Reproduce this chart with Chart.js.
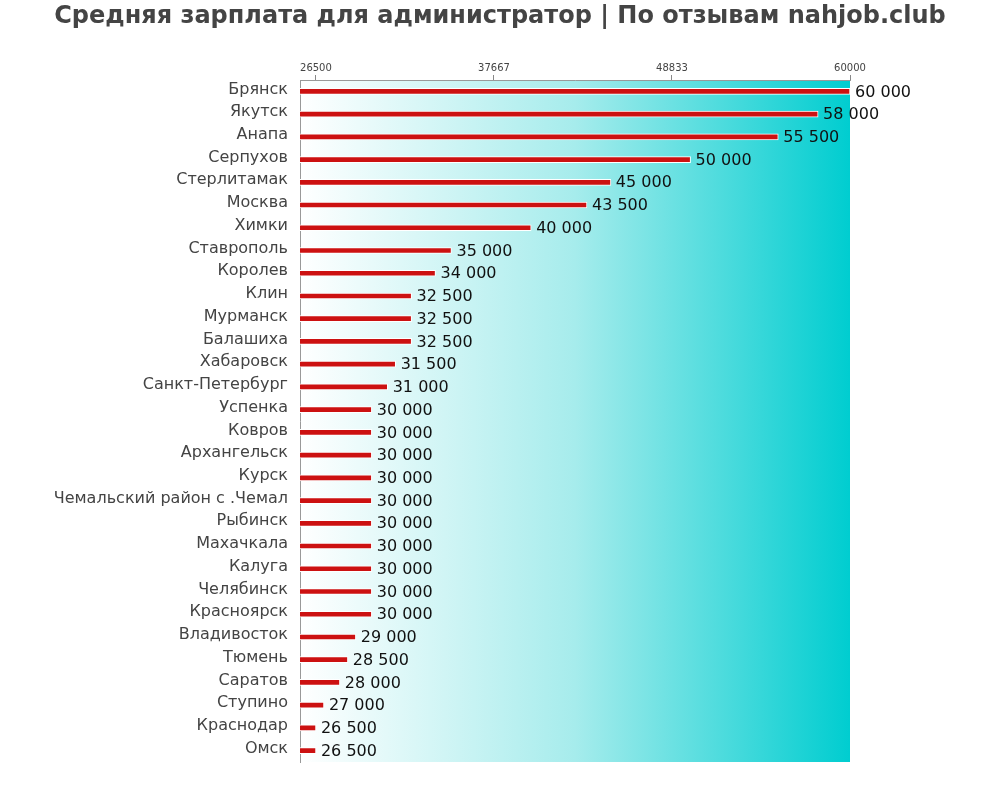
<!DOCTYPE html>
<html>
<head>
<meta charset="utf-8">
<script src="https://cdn.jsdelivr.net/npm/chart.js@4"></script>
<style>
  html, body { margin: 0; padding: 0; background: #fff; }
  #wrap { width: 1000px; height: 800px; }
</style>
</head>
<body>
<div id="wrap"><canvas id="chart"></canvas></div>
<script>
const title = 'Средняя зарплата для администратор | По отзывам nahjob.club';
const cities = ['Брянск', 'Якутск', 'Анапа', 'Серпухов', 'Стерлитамак', 'Москва', 'Химки',
  'Ставрополь', 'Королев', 'Клин', 'Мурманск', 'Балашиха', 'Хабаровск', 'Санкт-Петербург',
  'Успенка', 'Ковров', 'Архангельск', 'Курск', 'Чемальский район с .Чемал', 'Рыбинск',
  'Махачкала', 'Калуга', 'Челябинск', 'Красноярск', 'Владивосток', 'Тюмень', 'Саратов',
  'Ступино', 'Краснодар', 'Омск'];
const salaries = [60000, 58000, 55500, 50000, 45000, 43500, 40000, 35000, 34000, 32500,
  32500, 32500, 31500, 31000, 30000, 30000, 30000, 30000, 30000, 30000,
  30000, 30000, 30000, 30000, 29000, 28500, 28000, 27000, 26500, 26500];
const axisTicks = [26500, 37667, 48833, 60000];
const axisMin = 25500;
const axisMax = 60000;

// фон с градиентом внутри области графика
const bgPlugin = {
  id: 'bgGradient',
  beforeDraw(chart) {
    const { ctx, chartArea: a } = chart;
    const g = ctx.createLinearGradient(a.left, 0, a.right, 0);
    g.addColorStop(0, '#ffffff');
    g.addColorStop(0.5, '#a6ecec');
    g.addColorStop(1, '#00cdd0');
    ctx.save();
    ctx.fillStyle = g;
    ctx.fillRect(a.left, a.top, a.right - a.left, a.bottom - a.top);
    ctx.restore();
  }
};

// заголовок по центру всего холста
const titlePlugin = {
  id: 'centerTitle',
  afterDraw(chart) {
    const { ctx, width } = chart;
    ctx.save();
    ctx.font = 'bold 24px "DejaVu Sans"';
    ctx.fillStyle = '#444';
    ctx.textAlign = 'center';
    ctx.textBaseline = 'middle';
    ctx.fillText(title, width / 2, 17);
    ctx.restore();
  }
};

// подписи значений справа от полос
const valueLabels = {
  id: 'valueLabels',
  afterDatasetsDraw(chart) {
    const { ctx } = chart;
    const meta = chart.getDatasetMeta(0);
    ctx.save();
    ctx.font = '16px "DejaVu Sans"';
    ctx.fillStyle = '#111';
    ctx.textAlign = 'left';
    ctx.textBaseline = 'middle';
    meta.data.forEach((bar, i) => {
      const txt = String(salaries[i]).replace(/\B(?=(\d{3})+(?!\d))/g, ' ');
      ctx.fillText(txt, bar.x + 5, bar.y + 1);
    });
    ctx.restore();
  }
};

new Chart(document.getElementById('chart'), {
  type: 'bar',
  data: {
    labels: cities,
    datasets: [{
      data: salaries,
      backgroundColor: '#cc1111',
      borderColor: '#ffffff',
      borderWidth: 1,
      borderSkipped: false,
      barThickness: 6
    }]
  },
  options: {
    indexAxis: 'y',
    responsive: true,
    maintainAspectRatio: false,
    animation: false,
    layout: { padding: { left: 0, right: 150, top: 61, bottom: 38 } },
    plugins: {
      legend: { display: false },
      tooltip: { enabled: false },
      title: { display: false }
    },
    scales: {
      x: {
        position: 'top',
        min: axisMin,
        max: axisMax,
        afterBuildTicks(scale) {
          scale.ticks = axisTicks.map(v => ({ value: v }));
        },
        grid: { drawOnChartArea: false, drawTicks: true, tickLength: 5, color: '#888' },
        border: { display: true, color: '#999' },
        ticks: {
          color: '#444',
          font: { family: 'DejaVu Sans', size: 10 },
          padding: 1,
          maxRotation: 0,
          callback: v => String(v)
        }
      },
      y: {
        afterFit(scale) { scale.width = 300; },
        grid: { display: false, drawTicks: false },
        border: { display: true, color: '#999' },
        ticks: {
          color: '#444',
          font: { family: 'DejaVu Sans', size: 16 },
          padding: 12,
          labelOffset: -2,
          autoSkip: false
        }
      }
    }
  },
  plugins: [bgPlugin, valueLabels, titlePlugin]
});
</script>
</body>
</html>
